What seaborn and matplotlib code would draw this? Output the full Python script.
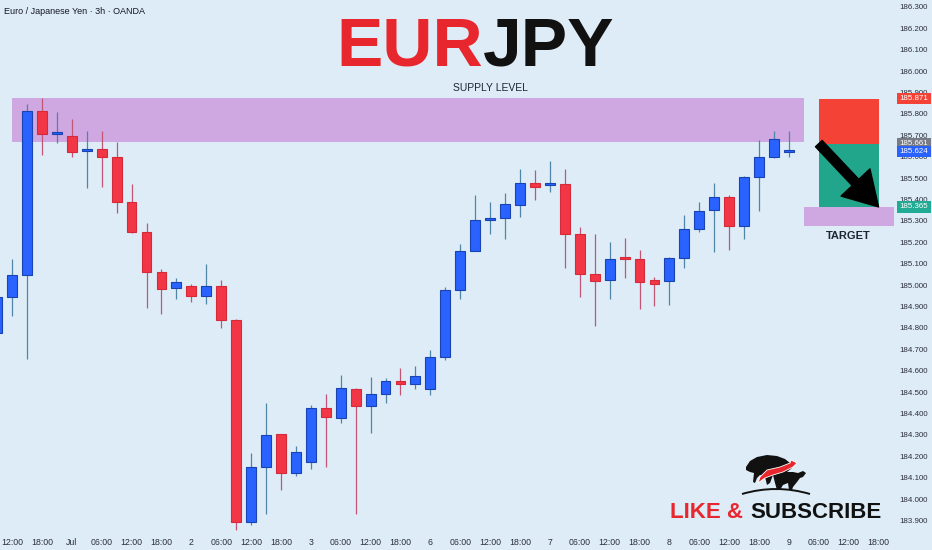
# EURJPY 3h candles with supply zone and short setup
import numpy as np
import pandas as pd
import seaborn as sns
import matplotlib.pyplot as plt
from matplotlib import font_manager
from matplotlib.patches import Rectangle, Polygon
from matplotlib.path import Path
from matplotlib.patches import PathPatch
from matplotlib.transforms import blended_transform_factory

# candle data (3h bars)
opens = [184.776, 184.944, 185.047, 185.813, 185.706, 185.696, 185.626, 185.636, 185.598, 185.388,
         185.248, 185.061, 184.986, 184.995, 184.949, 184.995, 184.836, 183.893, 184.150, 184.304,
         184.121, 184.173, 184.425, 184.379, 184.514, 184.435, 184.491, 184.551, 184.537, 184.514,
         184.664, 184.977, 185.159, 185.304, 185.313, 185.374, 185.477, 185.467, 185.472, 185.238,
         185.051, 185.023, 185.126, 185.121, 185.023, 185.019, 185.126, 185.262, 185.350, 185.411,
         185.276, 185.505, 185.598, 185.622]
closes = [184.944, 185.047, 185.813, 185.706, 185.715, 185.621, 185.636, 185.598, 185.388, 185.248,
          185.061, 184.981, 185.014, 184.949, 184.995, 184.836, 183.893, 184.150, 184.299, 184.121,
          184.220, 184.425, 184.383, 184.519, 184.435, 184.491, 184.551, 184.537, 184.575, 184.664,
          184.977, 185.159, 185.304, 185.313, 185.379, 185.477, 185.458, 185.468, 185.238, 185.051,
          185.019, 185.121, 185.124, 185.014, 185.005, 185.126, 185.262, 185.346, 185.411, 185.276,
          185.505, 185.598, 185.682, 185.624]
highs = [184.977, 185.121, 185.846, 185.874, 185.808, 185.776, 185.720, 185.720, 185.668, 185.472,
         185.290, 185.075, 185.033, 185.005, 185.098, 185.023, 184.841, 184.215, 184.449, 184.304,
         184.248, 184.439, 184.491, 184.579, 184.519, 184.570, 184.565, 184.612, 184.621, 184.696,
         184.991, 185.192, 185.421, 185.388, 185.430, 185.542, 185.537, 185.579, 185.542, 185.271,
         185.238, 185.201, 185.220, 185.164, 185.037, 185.131, 185.327, 185.388, 185.477, 185.421,
         185.509, 185.678, 185.720, 185.720]
lows = [184.743, 184.855, 184.654, 185.607, 185.664, 185.598, 185.453, 185.458, 185.336, 185.243,
        184.893, 184.864, 184.935, 184.921, 184.911, 184.799, 183.855, 183.879, 183.930, 184.042,
        184.107, 184.140, 184.150, 184.355, 183.930, 184.308, 184.449, 184.486, 184.514, 184.486,
        184.650, 184.935, 185.159, 185.238, 185.215, 185.318, 185.397, 185.435, 185.079, 184.944,
        184.808, 184.935, 185.033, 184.888, 184.902, 184.907, 185.079, 185.248, 185.154, 185.164,
        185.215, 185.346, 185.593, 185.598]

# x tick labels, one every two bars starting at bar 1
time_labels = ["12:00", "18:00", "Jul", "06:00", "12:00", "18:00", "2", "06:00", "12:00", "18:00",
               "3", "06:00", "12:00", "18:00", "6", "06:00", "12:00", "18:00", "7", "06:00",
               "12:00", "18:00", "8", "06:00", "12:00", "18:00", "9", "06:00", "12:00", "18:00"]
price_ticks = [183.9, 184.0, 184.1, 184.2, 184.3, 184.4, 184.5, 184.6, 184.7, 184.8, 184.9, 185.0,
               185.1, 185.2, 185.3, 185.4, 185.5, 185.6, 185.7, 185.8, 185.9, 186.0, 186.1, 186.2, 186.3]

# levels
supply_low, supply_high = 185.668, 185.874
stop_price = 185.871
entry_price = 185.661
target_price = 185.365
target_low = 185.276
last_price = 185.624

bg = "#deecf8"
blue, red = "#2962ff", "#f23645"

sns.set_theme(style="white", rc={"axes.facecolor": bg, "figure.facecolor": bg})
plt.rcParams["font.family"] = ["Liberation Sans", "DejaVu Sans"]
installed = {f.name for f in font_manager.fontManager.ttflist}
narrow = "Liberation Sans Narrow" if "Liberation Sans Narrow" in installed else "Liberation Sans"
scale_fs = 6.3 if narrow == "Liberation Sans Narrow" else 5.7

df = pd.DataFrame({"open": opens, "high": highs, "low": lows, "close": closes})
df["x"] = np.arange(len(df))
df["up"] = df["close"] >= df["open"]

fig = plt.figure(figsize=(9.32, 5.5), dpi=100)
ax = fig.add_axes([0, 18 / 550, 895 / 932, 532 / 550])
ax.set_facecolor(bg)

# supply zone
ax.add_patch(Rectangle((1.0, supply_low), 53.0, supply_high - supply_low,
                       color="#cfa8e2", zorder=1, lw=0))
ax.text(33.0, supply_high + 0.048, "SUPPLY LEVEL", ha="center", va="center",
        fontsize=7.5, color="#1e2633")

# candles
wick_cols = np.where(df["up"], "#4f86a8", "#c25576")
ax.vlines(df["x"], df["low"], df["high"], colors=wick_cols, lw=0.9, zorder=2)
body_bottom = df[["open", "close"]].min(axis=1)
body_h = (df["close"] - df["open"]).abs().clip(lower=0.009)
ax.bar(df["x"], body_h, bottom=body_bottom, width=0.66,
       color=np.where(df["up"], blue, red),
       edgecolor=np.where(df["up"], "#1843b0", "#d42a3a"), linewidth=0.8, zorder=3)

# short position box
ax.add_patch(Rectangle((55.0, entry_price), 4.0, stop_price - entry_price,
                       color="#f44336", lw=0, zorder=2))
ax.add_patch(Rectangle((55.0, target_price), 4.0, entry_price - target_price,
                       color="#22a68b", lw=0, zorder=2))
ax.add_patch(Rectangle((54.0, target_low), 6.0, target_price - target_low,
                       color="#cfa8e2", lw=0, zorder=2))
ax.text(57.0, target_low - 0.047, "TARGET", ha="center", va="center",
        fontsize=8, fontweight="bold", color="#1e2633")
ax.annotate("", xy=(59.0, target_price), xytext=(55.0, entry_price),
            arrowprops=dict(arrowstyle="simple,head_length=1.1,head_width=1.3,tail_width=0.3",
                            fc="black", ec="black", mutation_scale=22,
                            shrinkA=0, shrinkB=0), zorder=5)

# axes
ax.set_xlim(0.194, 60.1)
ax.set_ylim(183.846, 186.332)
for s in ax.spines.values():
    s.set_visible(False)
ax.yaxis.tick_right()
ax.set_yticks(price_ticks)
ax.set_yticklabels([f"{p:.3f}" for p in price_ticks], fontsize=scale_fs, color="#2a2e39",
                   family=narrow)
ax.set_xticks(np.arange(1, 60, 2))
ax.set_xticklabels(time_labels, fontsize=6.3, color="#2a2e39", family=narrow)
ax.tick_params(axis="both", length=0)
ax.tick_params(axis="y", pad=3)
ax.tick_params(axis="x", pad=4)
ax.grid(False)

# price tags on the scale
trans = blended_transform_factory(ax.transAxes, ax.transData)
tags = [(stop_price, "#f44336"), (entry_price, "#787b86"),
        (last_price, "#2962ff"), (target_price, "#22ab94")]
for p, c in tags:
    ax.add_patch(Rectangle((1.0025, p - 0.026), 0.038, 0.052, transform=trans,
                           color=c, lw=0, clip_on=False, zorder=6))
    ax.text(1.0205, p, f"{p:.3f}", transform=trans, ha="center", va="center",
            fontsize=scale_fs, color="white", family=narrow, clip_on=False, zorder=7)

# header and title
fig.text(4 / 932, 1 - 11 / 550, "Euro / Japanese Yen · 3h · OANDA", ha="left", va="center",
         fontsize=6.5, color="#131722", family=narrow)
fig.text(483 / 932, 1 - 65 / 550, "EUR", ha="right", va="baseline", fontsize=50,
         fontweight="bold", color="#e8262d")
fig.text(483 / 932, 1 - 65 / 550, "JPY", ha="left", va="baseline", fontsize=50,
         fontweight="bold", color="#111111")

# like & subscribe badge
fig.text(743 / 932, 1 - 518 / 550, "LIKE &", ha="right", va="baseline", fontsize=16,
         fontweight="bold", color="#e8262d")
fig.text(750 / 932, 1 - 518 / 550, "SUBSCRIBE", ha="left", va="baseline", fontsize=16,
         fontweight="bold", color="#111111")


def px(pts):
    return [(x / 932, 1 - y / 550) for x, y in pts]


bear = [(746, 467), (750, 461), (757, 457), (767, 455), (777, 456), (785, 459), (790, 463),
        (792, 468), (787, 472), (780, 473), (773, 475), (770, 483), (767, 485), (765, 477),
        (760, 475), (757, 478), (755, 483), (753, 482), (754, 473), (750, 472), (746, 470)]
bull = [(773, 475), (783, 472), (793, 472), (798, 473), (803, 471), (806, 473), (803, 477),
        (800, 478), (797, 482), (793, 487), (792, 490), (789, 490), (788, 483), (783, 485),
        (780, 490), (777, 490), (775, 483)]
swoosh = [(758, 483), (760, 477), (767, 470), (780, 467), (790, 463), (791, 460), (797, 463),
          (793, 467), (783, 472), (773, 475), (765, 478)]
fig.patches.append(Polygon(px(bear), closed=True, fc="#111111", ec="none",
                           transform=fig.transFigure))
fig.patches.append(Polygon(px(bull), closed=True, fc="#111111", ec="none",
                           transform=fig.transFigure))
fig.patches.append(Polygon(px(swoosh), closed=True, fc="#e8262d", ec="white", lw=0.6,
                           transform=fig.transFigure))
arc = Path(px([(742, 494), (776, 484), (810, 494)]), [Path.MOVETO, Path.CURVE3, Path.CURVE3])
fig.patches.append(PathPatch(arc, fc="none", ec="#111111", lw=1.4, transform=fig.transFigure))

fig.savefig("out.png", dpi=100, facecolor=bg)
